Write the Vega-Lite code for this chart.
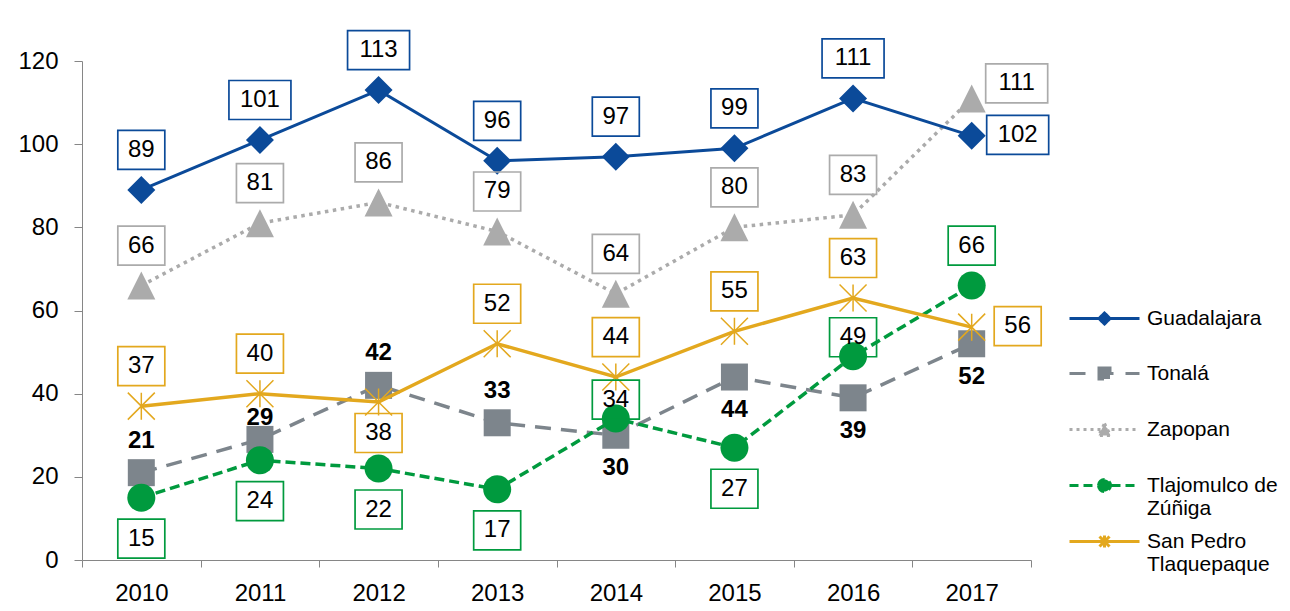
{
  "$schema": "https://vega.github.io/schema/vega-lite/v6.json",
  "width": 949,
  "height": 499,
  "autosize": {"type": "none"},
  "padding": {"left": 82, "top": 61, "right": 259, "bottom": 51},
  "background": "white",
  "config": {
    "view": {"stroke": null},
    "font": "Liberation Sans"
  },
  "data": {
    "values": [
      {"year": "2010", "series": "Guadalajara", "value": 89},
      {"year": "2011", "series": "Guadalajara", "value": 101},
      {"year": "2012", "series": "Guadalajara", "value": 113},
      {"year": "2013", "series": "Guadalajara", "value": 96},
      {"year": "2014", "series": "Guadalajara", "value": 97},
      {"year": "2015", "series": "Guadalajara", "value": 99},
      {"year": "2016", "series": "Guadalajara", "value": 111},
      {"year": "2017", "series": "Guadalajara", "value": 102},
      {"year": "2010", "series": "Tonalá", "value": 21},
      {"year": "2011", "series": "Tonalá", "value": 29},
      {"year": "2012", "series": "Tonalá", "value": 42},
      {"year": "2013", "series": "Tonalá", "value": 33},
      {"year": "2014", "series": "Tonalá", "value": 30},
      {"year": "2015", "series": "Tonalá", "value": 44},
      {"year": "2016", "series": "Tonalá", "value": 39},
      {"year": "2017", "series": "Tonalá", "value": 52},
      {"year": "2010", "series": "Zapopan", "value": 66},
      {"year": "2011", "series": "Zapopan", "value": 81},
      {"year": "2012", "series": "Zapopan", "value": 86},
      {"year": "2013", "series": "Zapopan", "value": 79},
      {"year": "2014", "series": "Zapopan", "value": 64},
      {"year": "2015", "series": "Zapopan", "value": 80},
      {"year": "2016", "series": "Zapopan", "value": 83},
      {"year": "2017", "series": "Zapopan", "value": 111},
      {"year": "2010", "series": "Tlajomulco de Zúñiga", "value": 15},
      {"year": "2011", "series": "Tlajomulco de Zúñiga", "value": 24},
      {"year": "2012", "series": "Tlajomulco de Zúñiga", "value": 22},
      {"year": "2013", "series": "Tlajomulco de Zúñiga", "value": 17},
      {"year": "2014", "series": "Tlajomulco de Zúñiga", "value": 34},
      {"year": "2015", "series": "Tlajomulco de Zúñiga", "value": 27},
      {"year": "2016", "series": "Tlajomulco de Zúñiga", "value": 49},
      {"year": "2017", "series": "Tlajomulco de Zúñiga", "value": 66},
      {"year": "2010", "series": "San Pedro Tlaquepaque", "value": 37},
      {"year": "2011", "series": "San Pedro Tlaquepaque", "value": 40},
      {"year": "2012", "series": "San Pedro Tlaquepaque", "value": 38},
      {"year": "2013", "series": "San Pedro Tlaquepaque", "value": 52},
      {"year": "2014", "series": "San Pedro Tlaquepaque", "value": 44},
      {"year": "2015", "series": "San Pedro Tlaquepaque", "value": 55},
      {"year": "2016", "series": "San Pedro Tlaquepaque", "value": 63},
      {"year": "2017", "series": "San Pedro Tlaquepaque", "value": 56}
    ]
  },
  "encoding": {
    "x": {
      "field": "year", "type": "ordinal",
      "scale": {"type": "band", "paddingInner": 0, "paddingOuter": 0},
      "axis": {"title": null, "labelAngle": 0, "labelFontSize": 24, "labelColor": "#000000", "labelPadding": 14, "tickSize": 7, "tickColor": "#868686", "domainColor": "#868686", "tickBand": "extent", "grid": false}
    },
    "y": {
      "field": "value", "type": "quantitative",
      "scale": {"domain": [0, 120], "nice": false},
      "axis": {"title": null, "values": [0, 20, 40, 60, 80, 100, 120], "labelFontSize": 24, "labelColor": "#000000", "labelPadding": 16, "tickSize": 8, "tickColor": "#868686", "domainColor": "#868686", "grid": false}
    }
  },
  "layer": [
    {
      "transform": [{"filter": "datum.series === 'Zapopan'"}],
      "mark": {"type": "line", "color": "#ABABAB", "strokeWidth": 3.5, "strokeDash": [3.5, 4.5],
        "point": {"filled": true, "color": "#ABABAB", "opacity": 1, "size": 4, "shape": "M0,-14L14,14L-14,14Z"}}
    },
    {
      "transform": [{"filter": "datum.series === 'Guadalajara'"}],
      "mark": {"type": "line", "color": "#0B4A99", "strokeWidth": 3,
        "point": {"filled": true, "color": "#0B4A99", "opacity": 1, "size": 4, "shape": "M0,-14L14,0L0,14L-14,0Z"}}
    },
    {
      "transform": [{"filter": "datum.series === 'Tonalá'"}],
      "mark": {"type": "line", "color": "#7D858C", "strokeWidth": 3.5, "strokeDash": [16, 10],
        "point": {"filled": true, "color": "#7D858C", "opacity": 1, "size": 4, "shape": "M-13.5,-13.5H13.5V13.5H-13.5Z"}}
    },
    {
      "transform": [{"filter": "datum.series === 'Tlajomulco de Zúñiga'"}],
      "mark": {"type": "line", "color": "#009A3E", "strokeWidth": 3.5, "strokeDash": [10, 5],
        "point": {"filled": true, "color": "#009A3E", "opacity": 1, "size": 4, "shape": "M-14,0A14,14 0 1,0 14,0A14,14 0 1,0 -14,0Z"}}
    },
    {
      "transform": [{"filter": "datum.series === 'San Pedro Tlaquepaque'"}],
      "mark": {"type": "line", "color": "#E3A81E", "strokeWidth": 3.5,
        "point": {"filled": false, "color": "#E3A81E", "opacity": 1, "size": 4, "strokeWidth": 1.5, "shape": "M0,-13.5V13.5M-13.5,-13.5L13.5,13.5M-13.5,13.5L13.5,-13.5"}}
    },
    {
      "transform": [{"filter": "(datum.series === 'Guadalajara' && datum.year !== '2017') || (datum.series === 'Zapopan' && datum.year !== '2017') || (datum.series === 'San Pedro Tlaquepaque' && datum.year !== '2012' && datum.year !== '2017') || (datum.series === 'Tlajomulco de Zúñiga' && datum.year === '2017')"}],
      "layer": [
        {
          "mark": {"type": "point", "filled": false, "opacity": 1, "size": 4, "strokeWidth": 1.7},
          "encoding": {
            "shape": {"condition": {"test": "datum.value >= 100", "value": "M-31,-59.5H31V-20.5H-31Z"}, "value": "M-23.5,-59.5H23.5V-20.5H-23.5Z"},
            "stroke": {"condition": [
              {"test": "datum.series === 'Guadalajara'", "value": "#0B4A99"},
              {"test": "datum.series === 'Zapopan'", "value": "#ABABAB"},
              {"test": "datum.series === 'Tlajomulco de Zúñiga'", "value": "#009A3E"}
            ], "value": "#E3A81E"}
          }
        },
        {
          "mark": {"type": "text", "fontSize": 24, "color": "#000000", "baseline": "middle", "dy": -40},
          "encoding": {"text": {"field": "value", "type": "quantitative"}}
        }
      ]
    },
    {
      "transform": [{"filter": "datum.series === 'Tlajomulco de Zúñiga' && (datum.year === '2010' || datum.year === '2011' || datum.year === '2012' || datum.year === '2013' || datum.year === '2015')"}],
      "layer": [
        {
          "mark": {"type": "point", "filled": false, "opacity": 1, "size": 4, "strokeWidth": 1.7, "stroke": "#009A3E", "shape": "M-23.5,21.5H23.5V60.5H-23.5Z"}
        },
        {
          "mark": {"type": "text", "fontSize": 24, "color": "#000000", "baseline": "middle", "dy": 41},
          "encoding": {"text": {"field": "value", "type": "quantitative"}}
        }
      ]
    },
    {
      "transform": [{"filter": "datum.series === 'San Pedro Tlaquepaque' && datum.year === '2012'"}],
      "layer": [
        {
          "mark": {"type": "point", "filled": false, "opacity": 1, "size": 4, "strokeWidth": 1.7, "stroke": "#E3A81E", "shape": "M-23.5,11.5H23.5V50.5H-23.5Z"}
        },
        {
          "mark": {"type": "text", "fontSize": 24, "color": "#000000", "baseline": "middle", "dy": 31},
          "encoding": {"text": {"field": "value", "type": "quantitative"}}
        }
      ]
    },
    {
      "transform": [{"filter": "datum.series === 'Tlajomulco de Zúñiga' && (datum.year === '2014' || datum.year === '2016')"}],
      "layer": [
        {
          "mark": {"type": "point", "filled": false, "opacity": 1, "size": 4, "strokeWidth": 1.7, "stroke": "#009A3E", "shape": "M-23.5,-38.5H23.5V0.5H-23.5Z"}
        },
        {
          "mark": {"type": "text", "fontSize": 24, "color": "#000000", "baseline": "middle", "dy": -19},
          "encoding": {"text": {"field": "value", "type": "quantitative"}}
        }
      ]
    },
    {
      "transform": [{"filter": "datum.year === '2017' && (datum.series === 'Guadalajara' || datum.series === 'San Pedro Tlaquepaque')"}],
      "layer": [
        {
          "mark": {"type": "point", "filled": false, "opacity": 1, "size": 4, "strokeWidth": 1.7},
          "encoding": {
            "shape": {"condition": {"test": "datum.value >= 100", "value": "M15,-20.5H77V18.5H15Z"}, "value": "M22.5,-20.5H69.5V18.5H22.5Z"},
            "stroke": {"condition": {"test": "datum.series === 'Guadalajara'", "value": "#0B4A99"}, "value": "#E3A81E"}
          }
        },
        {
          "mark": {"type": "text", "fontSize": 24, "color": "#000000", "baseline": "middle", "dx": 46, "dy": -1},
          "encoding": {"text": {"field": "value", "type": "quantitative"}}
        }
      ]
    },
    {
      "transform": [{"filter": "datum.year === '2017' && datum.series === 'Zapopan'"}],
      "layer": [
        {
          "mark": {"type": "point", "filled": false, "opacity": 1, "size": 4, "strokeWidth": 1.7, "stroke": "#ABABAB", "shape": "M14,-34.5H76V4.5H14Z"}
        },
        {
          "mark": {"type": "text", "fontSize": 24, "color": "#000000", "baseline": "middle", "dx": 45, "dy": -15},
          "encoding": {"text": {"field": "value", "type": "quantitative"}}
        }
      ]
    },
    {
      "transform": [{"filter": "datum.series === 'Tonalá' && (datum.year === '2010' || datum.year === '2012' || datum.year === '2013')"}],
      "mark": {"type": "text", "fontSize": 24, "fontWeight": "bold", "color": "#000000", "baseline": "middle", "dy": -32},
      "encoding": {"text": {"field": "value", "type": "quantitative"}}
    },
    {
      "transform": [{"filter": "datum.series === 'Tonalá' && datum.year === '2011'"}],
      "mark": {"type": "text", "fontSize": 24, "fontWeight": "bold", "color": "#000000", "baseline": "middle", "dy": -21},
      "encoding": {"text": {"field": "value", "type": "quantitative"}}
    },
    {
      "transform": [{"filter": "datum.series === 'Tonalá' && (datum.year === '2014' || datum.year === '2015' || datum.year === '2016' || datum.year === '2017')"}],
      "mark": {"type": "text", "fontSize": 24, "fontWeight": "bold", "color": "#000000", "baseline": "middle", "dy": 33},
      "encoding": {"text": {"field": "value", "type": "quantitative"}}
    },
    {
      "transform": [{"filter": "false"}],
      "mark": {"type": "point", "filled": true, "opacity": 1, "size": 4, "strokeWidth": 3},
      "encoding": {
        "color": {
          "field": "series", "type": "nominal", "title": null,
          "scale": {"domain": ["Guadalajara", "Tonalá", "Zapopan", "Tlajomulco de Zúñiga", "San Pedro Tlaquepaque"], "range": ["#0B4A99", "#7D858C", "#ABABAB", "#009A3E", "#E3A81E"]},
          "legend": {"orient": "none", "legendX": 1012, "legendY": 247, "padding": 0, "symbolSize": 4, "symbolStrokeWidth": 3, "labelOffset": 32, "labelFontSize": 21, "labelColor": "#000000", "labelBaseline": "middle", "rowPadding": 10, "labelLimit": 300,
            "labelExpr": "datum.label == 'Tlajomulco de Zúñiga' ? ['Tlajomulco de', 'Zúñiga'] : datum.label == 'San Pedro Tlaquepaque' ? ['San Pedro', 'Tlaquepaque'] : [datum.label, ' ']",
            "encode": {"labels": {"update": {"lineHeight": {"value": 25}}}}}
        },
        "stroke": {
          "field": "series", "type": "nominal", "title": null,
          "scale": {"domain": ["Guadalajara", "Tonalá", "Zapopan", "Tlajomulco de Zúñiga", "San Pedro Tlaquepaque"], "range": ["#0B4A99", "#7D858C", "#ABABAB", "#009A3E", "#E3A81E"]},
          "legend": {"orient": "none", "legendX": 1012, "legendY": 247, "padding": 0, "symbolSize": 4, "symbolStrokeWidth": 3, "labelOffset": 32, "labelFontSize": 21, "labelColor": "#000000", "labelBaseline": "middle", "rowPadding": 10, "labelLimit": 300,
            "labelExpr": "datum.label == 'Tlajomulco de Zúñiga' ? ['Tlajomulco de', 'Zúñiga'] : datum.label == 'San Pedro Tlaquepaque' ? ['San Pedro', 'Tlaquepaque'] : [datum.label, ' ']",
            "encode": {"labels": {"update": {"lineHeight": {"value": 25}}}}}
        },
        "shape": {
          "field": "series", "type": "nominal", "title": null,
          "scale": {"domain": ["Guadalajara", "Tonalá", "Zapopan", "Tlajomulco de Zúñiga", "San Pedro Tlaquepaque"],
            "range": [
              "M-35,0H35M0,-5.5L5.5,0L0,5.5L-5.5,0Z",
              "M-35,0H35M-5.5,-5.5H5.5V5.5H-5.5Z",
              "M-35,0H35M0,-6L6,6H-6Z",
              "M-35,0H35M-6,0A6,6 0 1,0 6,0A6,6 0 1,0 -6,0Z",
              "M-35,0H35M0,-6V6M-5,-5L5,5M-5,5L5,-5"
            ]},
          "legend": {"orient": "none", "legendX": 1012, "legendY": 247, "padding": 0, "symbolSize": 4, "symbolStrokeWidth": 3, "labelOffset": 32, "labelFontSize": 21, "labelColor": "#000000", "labelBaseline": "middle", "rowPadding": 10, "labelLimit": 300,
            "labelExpr": "datum.label == 'Tlajomulco de Zúñiga' ? ['Tlajomulco de', 'Zúñiga'] : datum.label == 'San Pedro Tlaquepaque' ? ['San Pedro', 'Tlaquepaque'] : [datum.label, ' ']",
            "encode": {"labels": {"update": {"lineHeight": {"value": 25}}}}}
        },
        "strokeDash": {
          "field": "series", "type": "nominal", "title": null,
          "scale": {"domain": ["Guadalajara", "Tonalá", "Zapopan", "Tlajomulco de Zúñiga", "San Pedro Tlaquepaque"], "range": [[1, 0], [16, 12], [3, 4], [9, 5], [1, 0]]},
          "legend": {"orient": "none", "legendX": 1012, "legendY": 247, "padding": 0, "symbolSize": 4, "symbolStrokeWidth": 3, "labelOffset": 32, "labelFontSize": 21, "labelColor": "#000000", "labelBaseline": "middle", "rowPadding": 10, "labelLimit": 300,
            "labelExpr": "datum.label == 'Tlajomulco de Zúñiga' ? ['Tlajomulco de', 'Zúñiga'] : datum.label == 'San Pedro Tlaquepaque' ? ['San Pedro', 'Tlaquepaque'] : [datum.label, ' ']",
            "encode": {"labels": {"update": {"lineHeight": {"value": 25}}}}}
        }
      }
    }
  ]
}
